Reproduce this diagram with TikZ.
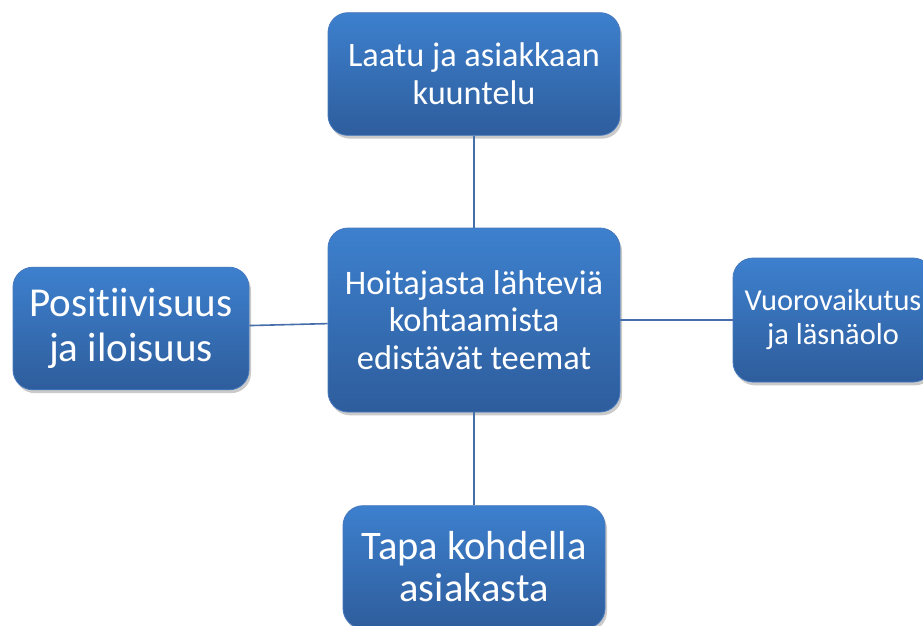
\documentclass[tikz,border=0pt]{standalone}
\usepackage{fontspec}
\setmainfont[Ligatures={NoCommon}]{Carlito}
\usetikzlibrary{shadows}
\definecolor{boxtop}{RGB}{61,128,206}
\definecolor{boxbot}{RGB}{46,93,156}
\definecolor{boxedge}{RGB}{70,120,190}
\definecolor{linecol}{RGB}{70,110,170}
\tikzset{
  theme/.style={draw=boxedge, line width=0.6pt, rounded corners=15pt,
    top color=boxtop, bottom color=boxbot, text=white, align=center,
    inner sep=2pt,
    drop shadow={shadow xshift=1.5pt, shadow yshift=-2.5pt, opacity=0.35, fill=black!60}},
  link/.style={draw=linecol, line width=1.2pt}
}
\begin{document}
\begin{tikzpicture}[x=0.75pt,y=-0.75pt]
\useasboundingbox (0,0) rectangle (923,625);
\node[theme, minimum width=219pt, minimum height=92pt, font=\fontsize{25.7}{28.5}\selectfont] (top) at (474,74) {Laatu ja asiakkaan\\kuuntelu};
\node[theme, minimum width=219pt, minimum height=138pt, font=\fontsize{25.8}{28}\selectfont] (center) at (474,320) {Hoitajasta lähteviä\\kohtaamista\\edistävät teemat};
\node[theme, minimum width=177pt, minimum height=92pt, font=\fontsize{30.8}{33.75}\selectfont] (left) at (131,328.5) {Positiivisuus\\ja iloisuus};
\node[theme, minimum width=150pt, minimum height=93pt, font=\fontsize{22.8}{25.5}\selectfont] (right) at (833,320) {Vuorovaikutus\\ja läsnäolo};
\node[theme, minimum width=196.5pt, minimum height=92pt, font=\fontsize{30.4}{31.5}\selectfont] (bottom) at (474,567) {Tapa kohdella\\asiakasta};
\draw[link] (top) -- (center);
\draw[link] (center) -- (bottom);
\draw[link] (left) -- (center);
\draw[link] (center) -- (right);
\end{tikzpicture}
\end{document}
